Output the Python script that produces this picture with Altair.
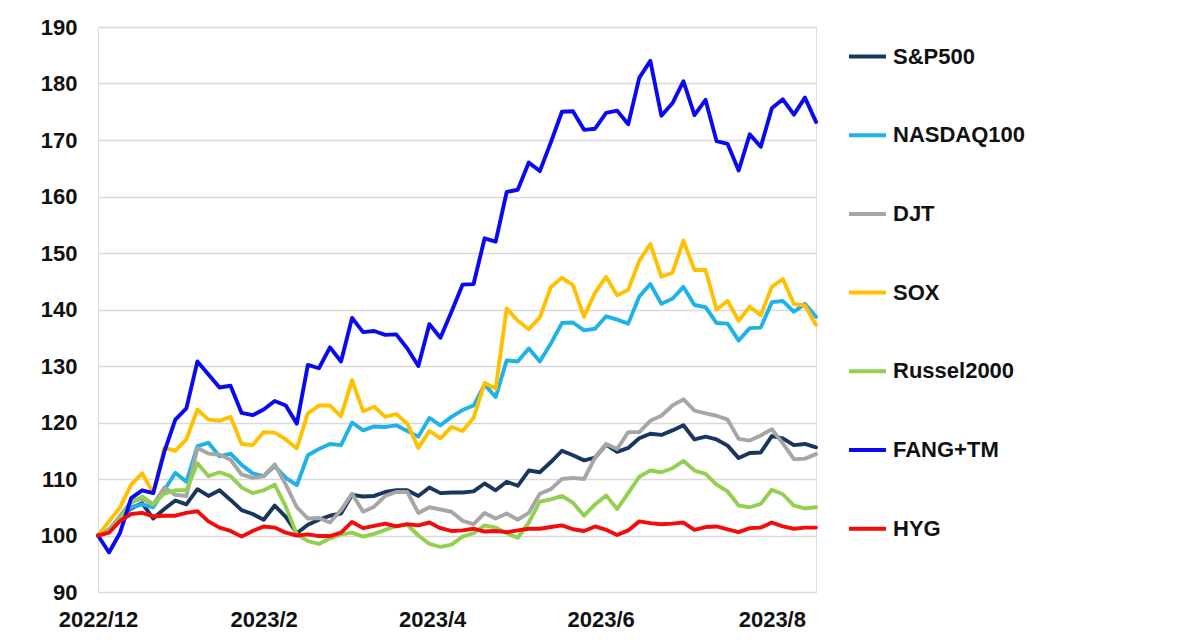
import altair as alt
import pandas as pd

# sample dates (every 4 calendar days from the 2022/12/30 base date)
dates = pd.date_range("2022-12-30", periods=66, freq="4D").strftime("%Y-%m-%dT00:00:00").tolist()

names = ["S&P500", "NASDAQ100", "DJT", "SOX", "Russel2000", "FANG+TM", "HYG"]
colors = ["#17375e", "#1fb2e8", "#a6a6a6", "#ffc000", "#92d050", "#0a0af0", "#f20c0c"]

sp500 = [100, 101, 103.2, 104.8, 105.7, 103, 104.7, 106.2, 105.5, 108.2,
         107, 108, 106.3, 104.5, 103.8, 102.8, 105.3, 103.3, 100.4, 101.9,
         102.8, 103.5, 103.9, 107.2, 106.9, 107, 107.7, 108, 108, 107,
         108.5, 107.5, 107.6, 107.6, 107.8, 109.2, 108, 109.5, 108.8, 111.5,
         111.2, 113, 115, 114.2, 113.3, 113.8, 116.1, 114.8, 115.5, 117.2,
         118, 117.8, 118.6, 119.5, 117, 117.5, 117, 115.9, 113.7, 114.6,
         114.7, 117.6, 117.2, 116, 116.2, 115.6]

nasdaq100 = [100, 101, 103, 105, 105.5, 105, 108, 111.1, 109.5, 115.8,
             116.4, 114, 114.5, 112.5, 111, 110.5, 112.3, 110.2, 108.9, 114.2,
             115.3, 116.2, 116, 120, 118.6, 119.3, 119.2, 119.5, 118.5, 117.5,
             120.8, 119.5, 121, 122.2, 123, 126.7, 124.5, 131, 130.8, 133.1,
             130.8, 134, 137.6, 137.7, 136.3, 136.6, 138.8, 138.2, 137.5, 142.3,
             144.5, 141, 141.9, 144, 140.8, 140.4, 137.6, 137.5, 134.5, 136.7,
             136.8, 141.3, 141.5, 139.6, 141, 138.7]

djt = [100, 101, 103.5, 106, 106.5, 105.5, 108.5, 107.2, 107, 115.5,
       114.5, 114.3, 113.4, 110.8, 110.2, 110.5, 112.6, 109, 105, 103,
       103.1, 102.3, 104.5, 107.4, 104.2, 105.1, 107, 107.7, 107.7, 104,
       105, 104.6, 104.2, 102.6, 102, 104, 103, 103.9, 102.8, 104,
       107.4, 108.2, 110, 110.2, 110, 113.8, 116.2, 115.3, 118.3, 118.3,
       120.3, 121.2, 123, 124.1, 122.1, 121.6, 121.2, 120.5, 117.1, 116.8,
       117.7, 118.8, 116.3, 113.5, 113.6, 114.4]

sox = [100, 102.5, 105, 109, 111, 107.5, 115.5, 115, 117, 122.3,
       120.5, 120.3, 121, 116.2, 116, 118.3, 118.2, 117, 115.4, 121.6,
       123, 123, 121.1, 127.5, 122, 122.8, 121, 121.5, 119.8, 115.5,
       118.5, 117.2, 119.2, 118.5, 120.8, 127, 126, 140.2, 138, 136.5,
       138.6, 144, 145.6, 144.3, 138.7, 143, 145.8, 142.5, 143.5, 148.6,
       151.6, 145.8, 146.5, 152.2, 147, 147, 140, 141.5, 138, 140.5,
       139, 144, 145.4, 141, 140.7, 137.3]

russel2000 = [100, 100.6, 103, 105.8, 106.9, 105.5, 107.4, 108, 108, 112.8,
              110.5, 111.2, 110.5, 108.5, 107.5, 108, 109, 105.1, 100.2, 99,
              98.5, 99.5, 100.2, 100.5, 99.8, 100.3, 101, 101.7, 101.9, 100,
              98.5, 98, 98.4, 99.8, 100.4, 101.8, 101.4, 100.4, 99.6, 102.3,
              106, 106.4, 107, 105.8, 103.5, 105.5, 107.1, 104.7, 107.5, 110.4,
              111.5, 111.2, 111.9, 113.2, 111.5, 110.9, 109, 107.8, 105.3, 105,
              105.6, 108.1, 107.3, 105.3, 104.8, 105]

fang = [100, 97, 100.5, 106.6, 108, 107.5, 114.8, 120.5, 122.5, 130.8,
        128.5, 126.2, 126.5, 121.7, 121.3, 122.3, 123.8, 123, 119.8, 130.2,
        129.6, 133.3, 130.8, 138.5, 136, 136.2, 135.5, 135.6, 133.1, 130,
        137.4, 135, 139.6, 144.4, 144.5, 152.6, 152, 160.8, 161.2, 166,
        164.5, 169.6, 175, 175.1, 171.8, 172, 174.8, 175.2, 172.8, 181,
        184, 174.3, 176.5, 180.4, 174.4, 177.1, 169.8, 169.3, 164.6, 171,
        168.8, 175.6, 177.2, 174.5, 177.5, 173.2]

hyg = [100, 100.5, 102.6, 103.8, 104, 103.4, 103.5, 103.5, 104, 104.3,
       102.5, 101.4, 100.8, 99.8, 100.8, 101.6, 101.4, 100.5, 100, 100.2,
       99.9, 99.9, 100.5, 102.4, 101.3, 101.7, 102.1, 101.6, 102, 101.8,
       102.3, 101.3, 100.8, 100.9, 101.2, 100.7, 100.8, 100.6, 100.9, 101.2,
       101.2, 101.5, 101.8, 101.1, 100.8, 101.6, 101, 100.1, 100.9, 102.5,
       102.2, 102, 102.1, 102.3, 101, 101.5, 101.6, 101.1, 100.6, 101.3,
       101.4, 102.3, 101.6, 101.2, 101.4, 101.4]

series = [sp500, nasdaq100, djt, sox, russel2000, fang, hyg]

rows = []
for name, vals in zip(names, series):
    for d, v in zip(dates, vals):
        rows.append({"date": d, "value": v, "series": name})
df = pd.DataFrame(rows)

font = "Liberation Sans"
tick_dates = [
    alt.DateTime(year=2022, month=12, date=30),
    alt.DateTime(year=2023, month=2, date=28),
    alt.DateTime(year=2023, month=4, date=30),
    alt.DateTime(year=2023, month=6, date=30),
    alt.DateTime(year=2023, month=8, date=31),
]

chart = alt.Chart(df).mark_line(strokeWidth=3.9, strokeJoin="round", strokeCap="round").encode(
    x=alt.X(
        "date:T",
        scale=alt.Scale(domain=[alt.DateTime(year=2022, month=12, date=30),
                                alt.DateTime(year=2023, month=9, date=16)]),
        axis=alt.Axis(values=tick_dates, format="%Y/%-m", title=None, grid=False,
                      ticks=False, domain=False, labelFontSize=22, labelFont=font,
                      labelFontWeight="bold", labelColor="#111111", labelPadding=17,
                      labelOverlap=False, labelFlush=False),
    ),
    y=alt.Y(
        "value:Q",
        scale=alt.Scale(domain=[90, 190], nice=False, zero=False),
        axis=alt.Axis(values=list(range(90, 191, 10)), title=None, ticks=False,
                      domain=False, gridColor="#d9d9d9", gridWidth=1.5,
                      labelFontSize=22, labelFont=font, labelFontWeight="bold",
                      labelColor="#111111", labelPadding=21),
    ),
    color=alt.Color(
        "series:N",
        scale=alt.Scale(domain=names, range=colors),
        sort=names,
        legend=alt.Legend(title=None, orient="none", legendX=749, legendY=9,
                          symbolType="stroke", symbolSize=1369, symbolStrokeWidth=4,
                          labelFontSize=22, labelFont=font, labelFontWeight="bold",
                          labelColor="#111111", rowPadding=46.7, labelOffset=5,
                          labelLimit=300),
    ),
).properties(
    width=718,
    height=565,
    autosize=alt.AutoSizeParams(type="none"),
    padding={"left": 90, "top": 19, "right": 376, "bottom": 40},
).configure_view(stroke=None).configure(background="white")

chart.save("out.html", embed_options={"renderer": "svg", "actions": False})
